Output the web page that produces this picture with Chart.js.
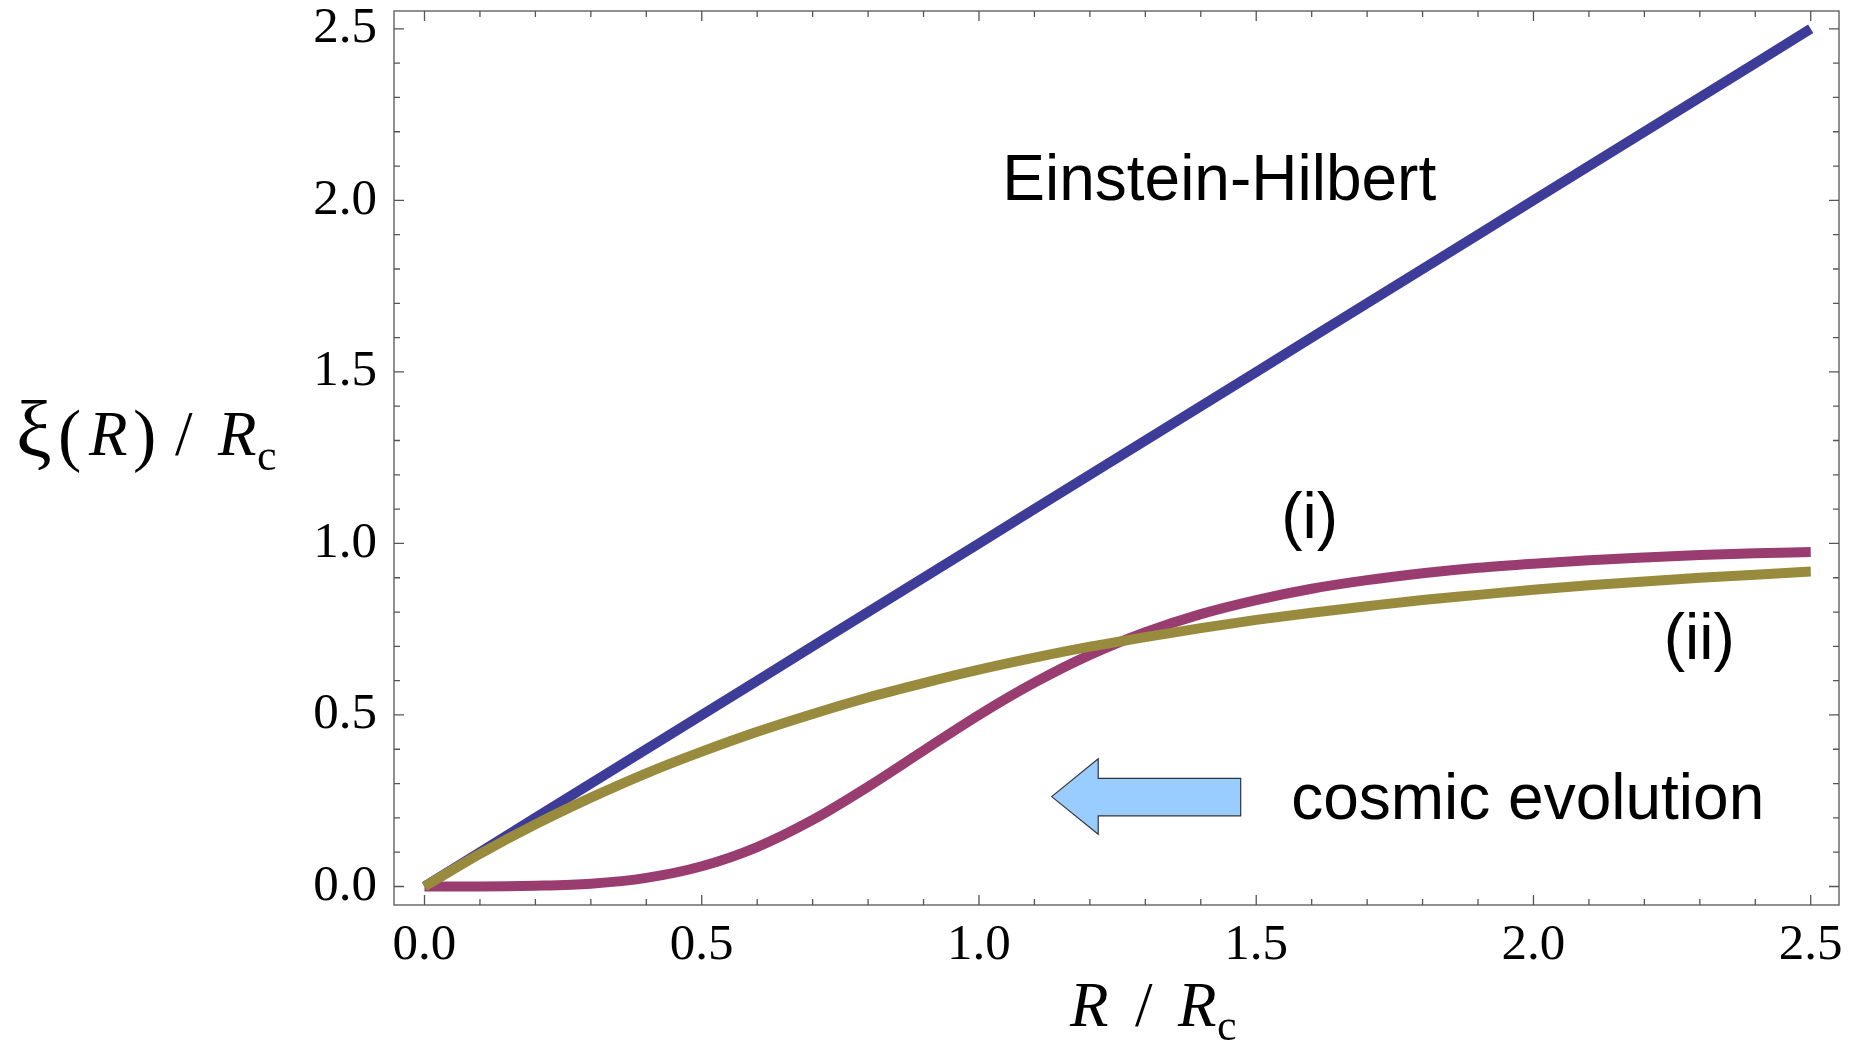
<!DOCTYPE html>
<html>
<head>
<meta charset="utf-8">
<script src="https://cdn.jsdelivr.net/npm/chart.js@4.4.1/dist/chart.umd.min.js"></script>
<style>
  html, body { margin: 0; padding: 0; background: #fff; }
  #box { width: 1852px; height: 1046px; }
</style>
</head>
<body>
<div id="box"><canvas id="myChart"></canvas></div>
<script>
// R / Rc sample positions
var xValues = [0.0, 0.1, 0.2, 0.3, 0.4, 0.5, 0.6, 0.7, 0.8, 0.9, 1.0, 1.1, 1.2,
               1.3, 1.4, 1.5, 1.6, 1.7, 1.8, 1.9, 2.0, 2.1, 2.2, 2.3, 2.4, 2.5];

// Einstein-Hilbert (straight line)
var yEinstein = [0.0, 0.1, 0.2, 0.3, 0.4, 0.5, 0.6, 0.7, 0.8, 0.9, 1.0, 1.1, 1.2,
                 1.3, 1.4, 1.5, 1.6, 1.7, 1.8, 1.9, 2.0, 2.1, 2.2, 2.3, 2.4, 2.5];

// case (i), purple
var yCaseI = [0.000, 0.000, 0.002, 0.008, 0.025, 0.059, 0.115, 0.194, 0.291, 0.396,
              0.500, 0.594, 0.675, 0.741, 0.794, 0.835, 0.868, 0.893, 0.913, 0.929,
              0.941, 0.951, 0.959, 0.966, 0.971, 0.975];

// case (ii), olive
var yCaseII = [0.000, 0.095, 0.181, 0.259, 0.330, 0.393, 0.451, 0.503, 0.551, 0.593,
               0.632, 0.667, 0.699, 0.727, 0.753, 0.777, 0.798, 0.817, 0.835, 0.850,
               0.865, 0.878, 0.889, 0.900, 0.909, 0.918];

var majorTicks = [0.0, 0.5, 1.0, 1.5, 2.0, 2.5];
var minorTicks = [0.0, 0.1, 0.2, 0.3, 0.4, 0.5, 0.6, 0.7, 0.8, 0.9, 1.0, 1.1, 1.2,
                  1.3, 1.4, 1.5, 1.6, 1.7, 1.8, 1.9, 2.0, 2.1, 2.2, 2.3, 2.4, 2.5];

function toPoints(ys){
    var pts = new Array();
    for (var i = 0; i < xValues.length; i++) {
        pts.push({x: xValues[i], y: ys[i]});
    }
    return pts;
}

function isMajor(v){
    return Math.abs(v * 2 - Math.round(v * 2)) < 1e-6;
}

// frame and inward ticks on all four sides
var frameTicks = {
    id: 'frameTicks',
    beforeDatasetsDraw: function(chart){
        var ctx = chart.ctx, a = chart.chartArea;
        var xs = chart.scales.x, ys = chart.scales.y;
        ctx.save();
        ctx.strokeStyle = '#555';
        ctx.lineWidth = 1.3;
        ctx.strokeRect(a.left, a.top, a.right - a.left, a.bottom - a.top);
        ctx.beginPath();
        for (v of minorTicks) {
            var len = isMajor(v) ? 10 : 6;
            var px = xs.getPixelForValue(v);
            ctx.moveTo(px, a.bottom); ctx.lineTo(px, a.bottom - len);
            ctx.moveTo(px, a.top); ctx.lineTo(px, a.top + len);
            var py = ys.getPixelForValue(v);
            ctx.moveTo(a.left, py); ctx.lineTo(a.left + len, py);
            ctx.moveTo(a.right, py); ctx.lineTo(a.right - len, py);
        }
        ctx.stroke();
        ctx.restore();
    }
};

// arrow, in data units
var arrowTip = [1.131, 0.262];
var arrowHeadX = 1.215, arrowEndX = 1.472;
var arrowHeadY = [0.372, 0.152], arrowShaftY = [0.315, 0.206];

var notes = [
    {text: 'Einstein-Hilbert', x: 1.042, y: 2.0},
    {text: '(i)', x: 1.545, y: 1.016},
    {text: '(ii)', x: 2.235, y: 0.663},
    {text: 'cosmic evolution', x: 1.563, y: 0.198}
];

function drawPieces(ctx, pieces){
    for (p of pieces) {
        ctx.font = p.font;
        ctx.fillText(p.t, p.x, p.y);
    }
}

var extras = {
    id: 'extras',
    afterDraw: function(chart){
        var ctx = chart.ctx;
        var xs = chart.scales.x, ys = chart.scales.y;
        ctx.save();

        // arrow
        var X = function(v){ return xs.getPixelForValue(v); };
        var Y = function(v){ return ys.getPixelForValue(v); };
        ctx.beginPath();
        ctx.moveTo(X(arrowTip[0]), Y(arrowTip[1]));
        ctx.lineTo(X(arrowHeadX), Y(arrowHeadY[0]));
        ctx.lineTo(X(arrowHeadX), Y(arrowShaftY[0]));
        ctx.lineTo(X(arrowEndX), Y(arrowShaftY[0]));
        ctx.lineTo(X(arrowEndX), Y(arrowShaftY[1]));
        ctx.lineTo(X(arrowHeadX), Y(arrowShaftY[1]));
        ctx.lineTo(X(arrowHeadX), Y(arrowHeadY[1]));
        ctx.closePath();
        ctx.fillStyle = '#99ccff';
        ctx.fill();
        ctx.strokeStyle = '#333';
        ctx.lineWidth = 1.2;
        ctx.stroke();

        // annotations
        ctx.fillStyle = '#000';
        ctx.textBaseline = 'alphabetic';
        ctx.textAlign = 'left';
        ctx.font = '64px "Liberation Sans", Arial, sans-serif';
        for (n of notes) {
            ctx.fillText(n.text, X(n.x), Y(n.y));
        }

        // axis titles
        var serif = '63px "Liberation Serif", "Times New Roman", serif';
        var serifI = 'italic 63px "Liberation Serif", "Times New Roman", serif';
        var serifS = '44px "Liberation Serif", "Times New Roman", serif';
        var serifXi = '80px "Liberation Serif", "Times New Roman", serif';
        var serifP = '70px "Liberation Serif", "Times New Roman", serif';
        drawPieces(ctx, [
            {t: 'ξ', font: serifXi, x: 16, y: 457},
            {t: '(', font: serifP, x: 58, y: 458},
            {t: 'R', font: serifI, x: 89, y: 455},
            {t: ')', font: serifP, x: 133, y: 458},
            {t: '/', font: serif, x: 175, y: 455},
            {t: 'R', font: serifI, x: 218, y: 455},
            {t: 'c', font: serifS, x: 257, y: 470}
        ]);
        drawPieces(ctx, [
            {t: 'R', font: serifI, x: 1070, y: 1026},
            {t: '/', font: serif, x: 1135, y: 1026},
            {t: 'R', font: serifI, x: 1178, y: 1026},
            {t: 'c', font: serifS, x: 1217, y: 1040}
        ]);
        ctx.restore();
    }
};

var tickFont = {family: '"Liberation Serif", "Times New Roman", serif', size: 51};

var ctx = document.getElementById('myChart').getContext('2d');
var xiChart = new Chart(ctx, {
    type: 'line',
    data: {
        datasets: [
            {label: '(ii)', data: toPoints(yCaseII), borderColor: '#998b3d',
             borderWidth: 10, fill: false, pointRadius: 0, cubicInterpolationMode: 'monotone',
             borderCapStyle: 'butt'},
            {label: '(i)', data: toPoints(yCaseI), borderColor: '#993d71',
             borderWidth: 10, fill: false, pointRadius: 0, cubicInterpolationMode: 'monotone',
             borderCapStyle: 'butt'},
            {label: 'Einstein-Hilbert', data: toPoints(yEinstein), borderColor: '#3d3d99',
             borderWidth: 10, fill: false, pointRadius: 0, tension: 0,
             borderCapStyle: 'butt'}
        ]
    },
    options: {
        responsive: true,
        maintainAspectRatio: false,
        devicePixelRatio: 1,
        animation: false,
        events: [],
        layout: {padding: {top: 11, right: 13, left: 0, bottom: 0}},
        plugins: {legend: {display: false}, tooltip: {enabled: false}},
        scales: {
            x: {
                type: 'linear',
                min: -0.055,
                max: 2.551,
                grid: {display: false, drawTicks: false, tickLength: 0},
                border: {display: false},
                ticks: {
                    font: tickFont, color: '#000', padding: 10, maxRotation: 0,
                    callback: function(v){ return v.toFixed(1); }
                },
                afterBuildTicks: function(scale){
                    scale.ticks = majorTicks.map(function(v){ return {value: v}; });
                },
                afterFit: function(scale){
                    scale.height = 141;
                    scale.paddingLeft = 0;
                    scale.paddingRight = 0;
                }
            },
            y: {
                type: 'linear',
                min: -0.054,
                max: 2.552,
                grid: {display: false, drawTicks: false, tickLength: 0},
                border: {display: false},
                ticks: {
                    font: tickFont, color: '#000', padding: 17,
                    callback: function(v){ return v.toFixed(1); }
                },
                afterBuildTicks: function(scale){
                    scale.ticks = majorTicks.map(function(v){ return {value: v}; });
                },
                afterFit: function(scale){
                    scale.width = 394;
                    scale.paddingTop = 0;
                    scale.paddingBottom = 0;
                }
            }
        }
    },
    plugins: [frameTicks, extras]
});
</script>
</body>
</html>
